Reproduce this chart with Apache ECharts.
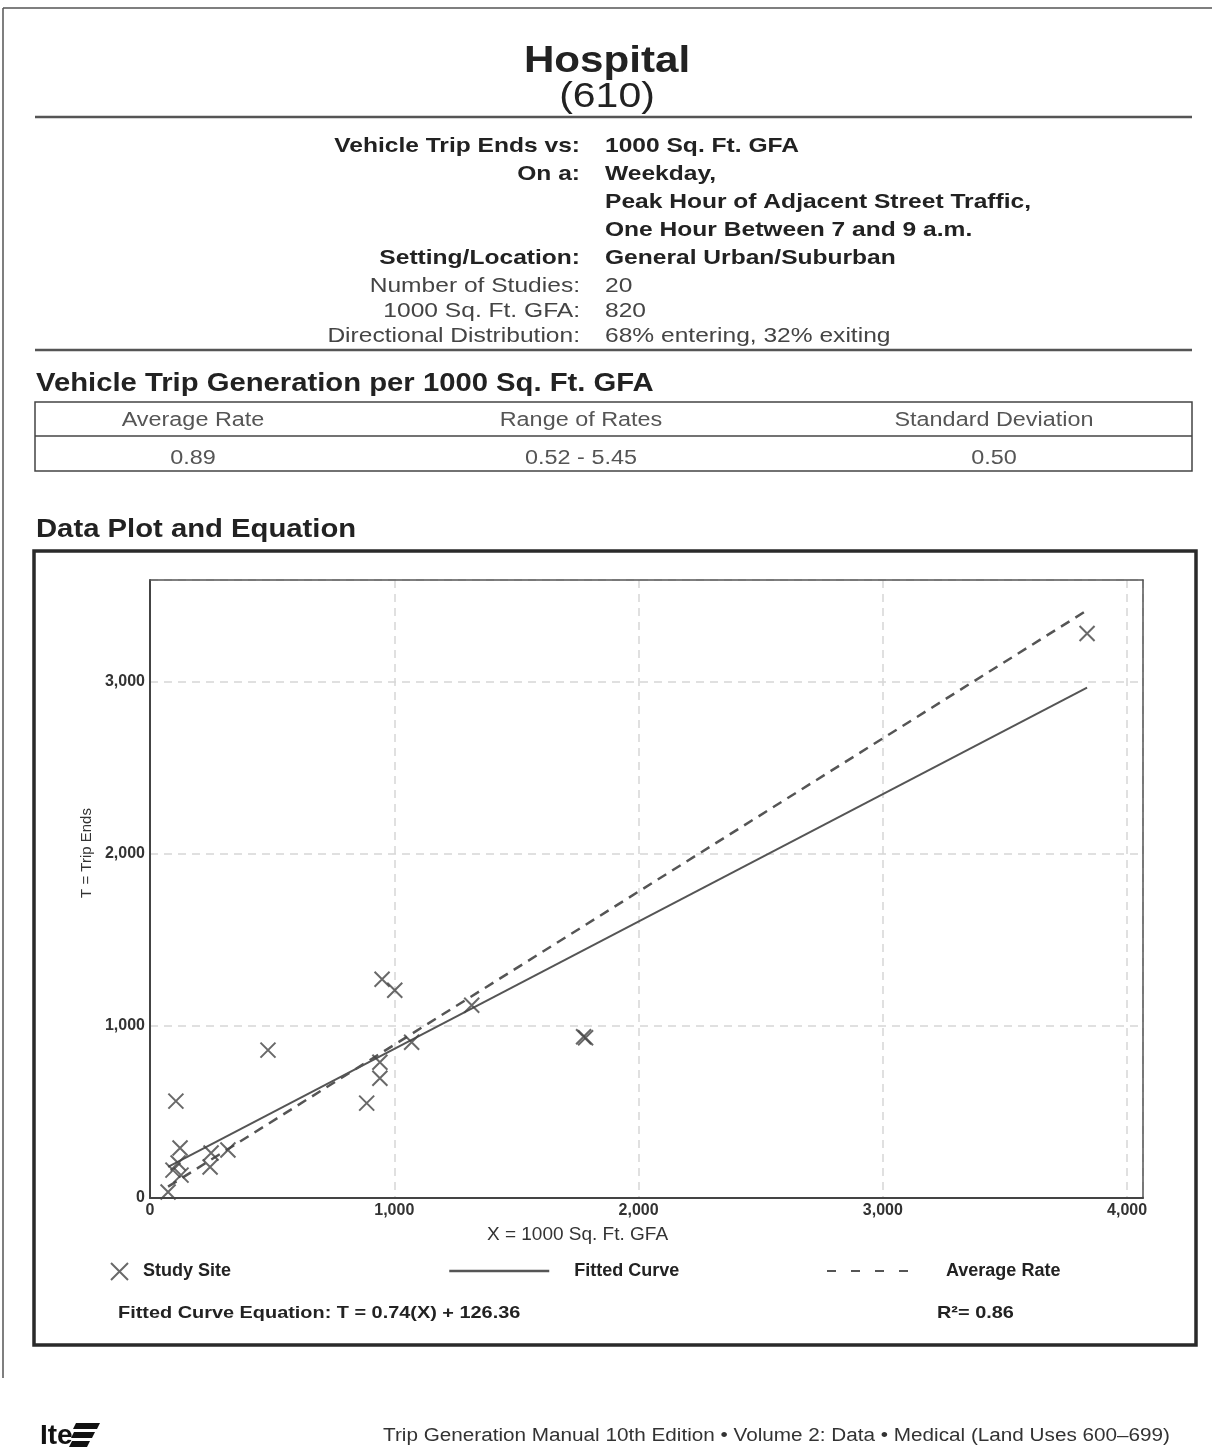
<!DOCTYPE html>
<html>
<head>
<meta charset="utf-8">
<style>
html,body{margin:0;padding:0;background:#fff;}
#chart{width:1212px;height:1452px;}
</style>
<script src="https://cdn.jsdelivr.net/npm/echarts@6/dist/echarts.min.js"></script>
</head>
<body>
<div id="chart"></div>
<script>
// ---- Data ----
const siteX = [3836, 950, 1002, 1317, 1775, 1783, 1071, 941, 941, 887, 483, 106, 123, 115, 94, 127, 74, 250, 246, 319];
const siteT = [3279, 1271, 1207, 1120, 937, 931, 905, 789, 696, 551, 859, 563, 290, 203, 162, 133, 35, 261, 180, 279];
const fitSlope = 0.74, fitIntercept = 126.36;
const avgRate = 0.89;
const xTicks = [0, 1000, 2000, 3000, 4000];
const yTicks = [0, 1000, 2000, 3000];

const infoLabels = ['Vehicle Trip Ends vs:', 'On a:', '', '', 'Setting/Location:', 'Number of Studies:', '1000 Sq. Ft. GFA:', 'Directional Distribution:'];
const infoValues = ['1000 Sq. Ft. GFA', 'Weekday,', 'Peak Hour of Adjacent Street Traffic,', 'One Hour Between 7 and 9 a.m.', 'General Urban/Suburban', '20', '820', '68% entering, 32% exiting'];
const tableHeaders = ['Average Rate', 'Range of Rates', 'Standard Deviation'];
const tableValues = ['0.89', '0.52 - 5.45', '0.50'];

// ---- Build ----
const FF = '"Liberation Sans", Arial, Helvetica, sans-serif';
const SX = 1.17;
const xMin = Math.min(...siteX), xMax = Math.max(...siteX);
const points = siteX.map((x, i) => [x, siteT[i]]);
const fitLine = [[xMin, fitSlope * xMin + fitIntercept], [xMax, fitSlope * xMax + fitIntercept]];
const avgLine = [[xMin, avgRate * xMin], [xMax, avgRate * xMax]];

function txt(x, y, s, size, weight, align, fill, sx) {
  return { type: 'text', x: x, y: y, scaleX: sx === undefined ? SX : sx, silent: true,
    style: { text: s, fontSize: size, fontWeight: weight, fontFamily: FF, fill: fill || '#222',
      textAlign: align || 'left', textVerticalAlign: 'middle' } };
}
function line(x1, y1, x2, y2, w, c) {
  return { type: 'line', silent: true, shape: { x1, y1, x2, y2 }, style: { stroke: c || '#444', lineWidth: w || 1.5 } };
}

const graphics = [];
// page border
graphics.push(line(3, 8, 1212, 8, 1.5, '#555'));
graphics.push(line(3, 8, 3, 1378, 1.5, '#555'));
// Title
graphics.push(txt(607, 62, 'Hospital', 36, 'bold', 'center', '#222'));
graphics.push(txt(607, 97, '(610)', 35, 'normal', 'center', '#222'));
graphics.push(line(35, 117, 1192, 117, 2.5, '#555'));
// Info block
const rowY = [146, 174, 202, 230, 258, 286, 311, 336];
infoLabels.forEach((l, i) => {
  const bold = i < 5;
  if (l) graphics.push(txt(580, rowY[i], l, 21, bold ? 'bold' : 'normal', 'right', bold ? '#222' : '#444'));
  graphics.push(txt(605, rowY[i], infoValues[i], 21, bold ? 'bold' : 'normal', 'left', bold ? '#222' : '#444'));
});
graphics.push(line(35, 350, 1192, 350, 2.5, '#555'));
// Rates table
graphics.push(txt(36, 384, 'Vehicle Trip Generation per 1000 Sq. Ft. GFA', 25, 'bold', 'left', '#222'));
graphics.push({ type: 'rect', silent: true, shape: { x: 35, y: 402, width: 1157, height: 69 }, style: { fill: 'none', stroke: '#444', lineWidth: 1.5 } });
graphics.push(line(35, 436, 1192, 436, 1.5, '#444'));
const colX = [193, 581, 994];
tableHeaders.forEach((h, i) => graphics.push(txt(colX[i], 420, h, 20, 'normal', 'center', '#555')));
tableValues.forEach((v, i) => graphics.push(txt(colX[i], 458, v, 20, 'normal', 'center', '#555')));
// Plot section
graphics.push(txt(36, 530, 'Data Plot and Equation', 25, 'bold', 'left', '#222'));
graphics.push({ type: 'rect', silent: true, shape: { x: 34, y: 551, width: 1162, height: 794 }, style: { fill: 'none', stroke: '#2a2a2a', lineWidth: 3.5 } });
graphics.push(txt(118, 1313, 'Fitted Curve Equation: T = 0.74(X) + 126.36', 17, 'bold', 'left', '#222'));
graphics.push(txt(937, 1313, 'R²= 0.86', 17, 'bold', 'left', '#222'));
// Footer
graphics.push(txt(1170, 1436, 'Trip Generation Manual 10th Edition \u2022 Volume 2: Data \u2022 Medical (Land Uses 600\u2013699)', 18, 'normal', 'right', '#333', 1.15));
graphics.push({ type: 'text', x: 40, y: 1436, silent: true, style: { text: 'Ite', fontSize: 28, fontWeight: 'bold', fontFamily: FF, fill: '#111', textVerticalAlign: 'middle' } });
graphics.push({ type: 'polygon', silent: true, shape: { points: [[76, 1423], [100, 1423], [97, 1429], [73, 1429]] }, style: { fill: '#111' } });
graphics.push({ type: 'polygon', silent: true, shape: { points: [[74, 1432], [95, 1432], [92, 1438], [71, 1438]] }, style: { fill: '#111' } });
graphics.push({ type: 'polygon', silent: true, shape: { points: [[72, 1441], [90, 1441], [87, 1447], [69, 1447]] }, style: { fill: '#111' } });

const legendText = { fontFamily: FF, fontWeight: 'bold', fontSize: 18, color: '#222' };
const hideSym = { opacity: 0 };

const option = {
  animation: false,
  backgroundColor: '#fff',
  grid: { left: 150, right: 69, top: 580, bottom: 254, containLabel: false },
  xAxis: [{
    type: 'value', min: 0, max: 4065, interval: 1000,
    name: 'X = 1000 Sq. Ft. GFA', nameLocation: 'middle', nameGap: 27,
    nameTextStyle: { fontFamily: FF, fontSize: 19, color: '#333', padding: [0, 138, 0, 0] },
    axisLine: { show: true, lineStyle: { color: '#444', width: 2 } },
    axisTick: { show: false },
    axisLabel: { margin: 5, fontFamily: FF, fontSize: 16, fontWeight: 'bold', color: '#333',
      formatter: v => (xTicks.indexOf(v) >= 0 ? v.toLocaleString('en-US') : '') },
    splitLine: { show: true, lineStyle: { color: '#d6d6d6', type: [8, 6], width: 1.5 } }
  }, {
    type: 'value', position: 'top', min: 0, max: 4065, interval: 1000,
    axisLine: { show: true, onZero: false, lineStyle: { color: '#555', width: 1.5 } },
    axisTick: { show: false }, axisLabel: { show: false }, splitLine: { show: false }
  }],
  yAxis: [{
    type: 'value', min: 0, max: 3590, interval: 1000,
    name: 'T = Trip Ends', nameLocation: 'middle', nameGap: 54, nameRotate: 90,
    nameTextStyle: { fontFamily: FF, fontSize: 15, color: '#333', padding: [0, 0, 0, 72] },
    axisLine: { show: true, lineStyle: { color: '#444', width: 2 } },
    axisTick: { show: false },
    axisLabel: { margin: 5, fontFamily: FF, fontSize: 16, fontWeight: 'bold', color: '#333',
      formatter: v => (yTicks.indexOf(v) >= 0 ? v.toLocaleString('en-US') : '') },
    splitLine: { show: true, lineStyle: { color: '#d6d6d6', type: [8, 6], width: 1.5 } }
  }, {
    type: 'value', position: 'right', min: 0, max: 3590, interval: 1000,
    axisLine: { show: true, onZero: false, lineStyle: { color: '#555', width: 1.5 } },
    axisTick: { show: false }, axisLabel: { show: false }, splitLine: { show: false }
  }],
  legend: [
    { data: ['Study Site'], left: 110, top: 1262, padding: 0, itemWidth: 17, itemHeight: 17, formatter: '  {name}', textStyle: legendText, selectedMode: false },
    { data: ['Fitted Curve'], left: 448, top: 1262, padding: 0, itemWidth: 100, itemHeight: 17, formatter: '    {name}', textStyle: legendText, selectedMode: false,
      itemStyle: hideSym, lineStyle: { width: 2.5, opacity: 1 } },
    { data: ['Average Rate'], left: 826, top: 1262, padding: 0, itemWidth: 84, itemHeight: 17, formatter: '      {name}', textStyle: legendText, selectedMode: false,
      itemStyle: hideSym, lineStyle: { type: [9, 15], width: 2, opacity: 1 } }
  ],
  series: [
    { name: 'Fitted Curve', type: 'line', data: fitLine, showSymbol: false, symbol: 'none',
      lineStyle: { color: '#555', width: 2 }, itemStyle: { color: '#555' }, z: 2 },
    { name: 'Average Rate', type: 'line', data: avgLine, showSymbol: false, symbol: 'none',
      lineStyle: { color: '#555', width: 2.5, type: [10, 7] }, itemStyle: { color: '#555' }, z: 2 },
    { name: 'Study Site', type: 'scatter', data: points, symbol: 'path://M0,0L10,10M10,0L0,10', symbolSize: 15,
      itemStyle: { color: 'rgba(0,0,0,0)', borderColor: '#444', borderWidth: 2 }, z: 3 }
  ],
  graphic: graphics
};

const chart = echarts.init(document.getElementById('chart'), null, { renderer: 'canvas' });
chart.setOption(option);
</script>
</body>
</html>
